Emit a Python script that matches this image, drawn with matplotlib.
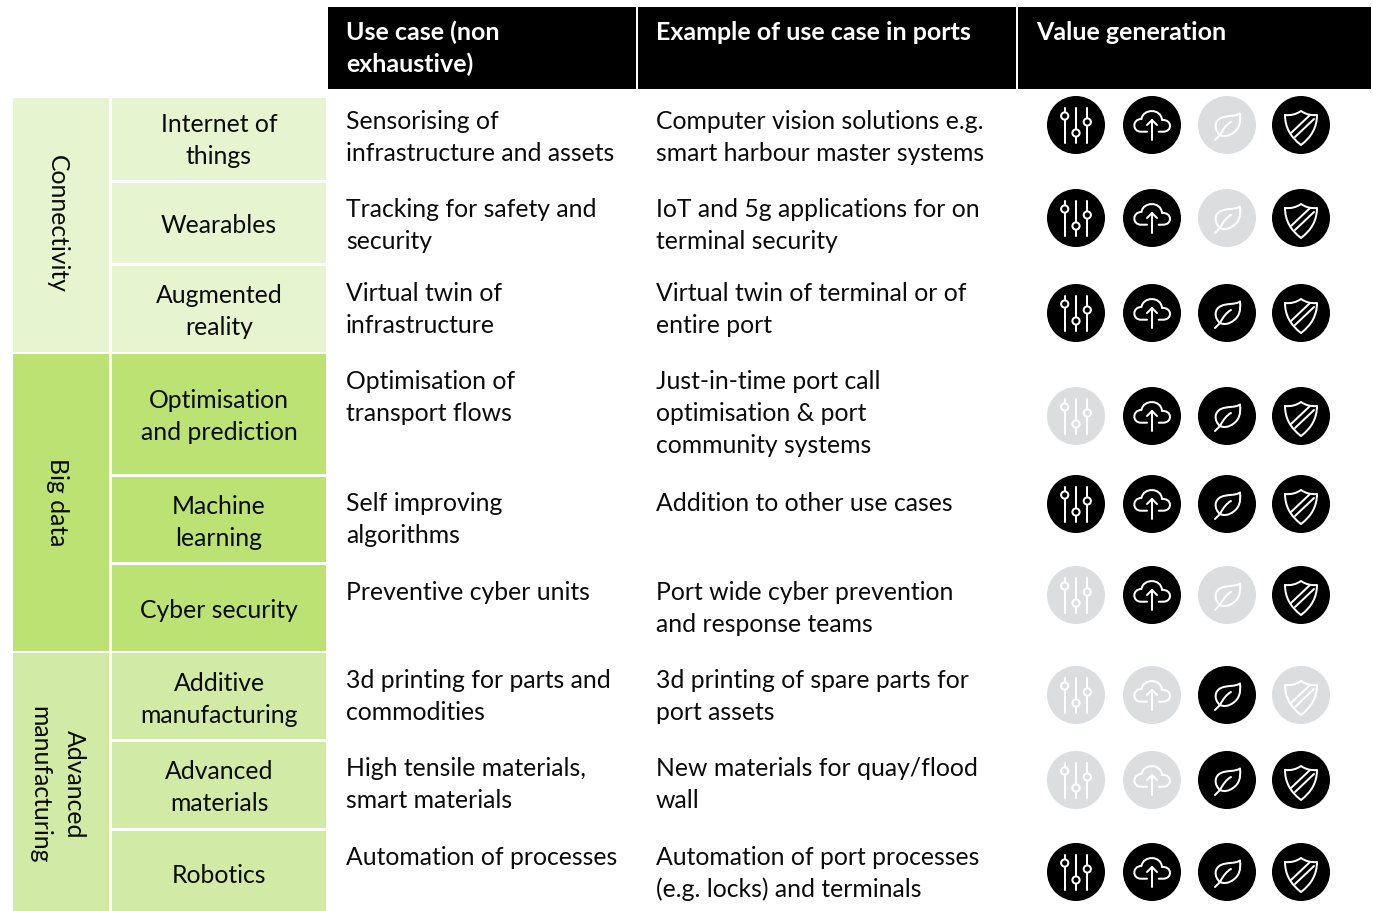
import matplotlib
matplotlib.use("Agg")
import matplotlib.pyplot as plt
from matplotlib.patches import Rectangle, Circle, PathPatch
from matplotlib.path import Path

plt.rcParams['font.family'] = ['Lato', 'DejaVu Sans']

# ---- content ----
headers = [["Use case (non", "exhaustive)"], ["Example of use case in ports"], ["Value generation"]]
groups = [["Connectivity"], ["Big data"], ["Advanced", "manufacturing"]]
technologies = [["Internet of", "things"], ["Wearables"], ["Augmented", "reality"],
                ["Optimisation", "and prediction"], ["Machine", "learning"], ["Cyber security"],
                ["Additive", "manufacturing"], ["Advanced", "materials"], ["Robotics"]]
use_cases = [["Sensorising of", "infrastructure and assets"], ["Tracking for safety and", "security"],
             ["Virtual twin of", "infrastructure"], ["Optimisation of", "transport flows"],
             ["Self improving", "algorithms"], ["Preventive cyber units"],
             ["3d printing for parts and", "commodities"], ["High tensile materials,", "smart materials"],
             ["Automation of processes"]]
examples = [["Computer vision solutions e.g.", "smart harbour master systems"],
            ["IoT and 5g applications for on", "terminal security"],
            ["Virtual twin of terminal or of", "entire port"],
            ["Just-in-time port call", "optimisation & port", "community systems"],
            ["Addition to other use cases"],
            ["Port wide cyber prevention", "and response teams"],
            ["3d printing of spare parts for", "port assets"],
            ["New materials for quay/flood", "wall"],
            ["Automation of port processes", "(e.g. locks) and terminals"]]
# value generation: sliders, cloud, leaf, shield (1 = applies)
value_flags = [[1, 1, 0, 1], [1, 1, 0, 1], [1, 1, 1, 1], [0, 1, 1, 1], [1, 1, 1, 1],
               [0, 1, 0, 1], [0, 0, 1, 0], [0, 0, 1, 1], [1, 1, 1, 1]]

# ---- layout (pixels) ----
W, H = 1373, 911
FS = 17.8
FS_HEAD = 18.0
LH = 32
group_bands = [(98, 352), (354, 651), (653, 911)]
group_colors = ['#E6F4D0', '#BBE272', '#D1EBA6']
group_of_row = [0, 0, 0, 1, 1, 1, 2, 2, 2]
row_bands = [(98, 180), (183, 263), (266, 352), (354, 474), (477, 562), (565, 651),
             (653, 739), (742, 828), (831, 911)]
tech_base = [132, 233, 303, 408, 514, 618, 691, 779, 883]
text_base = [129, 217, 301, 389, 511, 600, 688, 776, 865]
icon_y = [125, 218, 313, 416, 504, 595, 695, 780, 872]
icon_x = [1076, 1152, 1227, 1301]
R = 29
header_cols = [(328, 636, 346), (638, 1016, 656), (1018, 1371, 1036)]
group_label_y = [224, 503, 785]

fig = plt.figure(figsize=(W / 100, H / 100), dpi=100)
ax = fig.add_axes([0, 0, 1, 1])
ax.set_xlim(0, W)
ax.set_ylim(H, 0)
ax.axis('off')
BLACK = '#000000'
TXT = '#0b0b0b'
LW = 1.45


def lines(x, y, rows, color=TXT, ha='left', weight='normal', size=FS):
    for i, s in enumerate(rows):
        ax.text(x, y + i * LH, s, fontsize=size, color=color, ha=ha, va='baseline', fontweight=weight)


def stroke(cx, cy, verts, codes=None):
    verts = [(cx + a, cy + b) for a, b in verts]
    p = Path(verts, codes) if codes else Path(verts)
    ax.add_patch(PathPatch(p, fc='none', ec='white', lw=LW, capstyle='round', joinstyle='round', zorder=4))


def sliders(cx, cy):
    for dx, ky in [(-11.3, -9), (0, 8), (11.3, -3)]:
        stroke(cx, cy, [(dx, -17.5), (dx, ky - 3.6)])
        stroke(cx, cy, [(dx, ky + 3.6), (dx, 17.5)])
        ax.add_patch(Circle((cx + dx, cy + ky), 3.6, fc='none', ec='white', lw=LW, zorder=4))


def cloud(cx, cy):
    C4, M, L = Path.CURVE4, Path.MOVETO, Path.LINETO
    v = [(-5, 6.7), (-11, 6.7), (-20, 6.7), (-20, -6), (-10.5, -6), (-9, -16.5), (9, -17), (10, -5),
         (20, -6), (21, 6.7), (11, 6.7), (6.7, 6.7)]
    stroke(cx, cy, v, [M, L, C4, C4, C4, C4, C4, C4, C4, C4, C4, L])
    stroke(cx, cy, [(0, 14.5), (0, -5)])
    stroke(cx, cy, [(-5, 0), (0, -5), (5, 0)])


def leaf(cx, cy):
    C4, M = Path.CURVE4, Path.MOVETO
    v = [(-7, 10), (-13, 5), (-13, -4), (-6, -7), (0, -10), (8, -8), (13, -11.5),
         (14, -2), (12, 4), (6, 8), (2, 11), (-3, 12), (-7, 10)]
    stroke(cx, cy, v, [M] + [C4] * 12)
    stroke(cx, cy, [(-12, 15), (-7, 10)])
    stroke(cx, cy, [(-7, 10), (-4, 4), (0, -1), (4, -3)], [M, C4, C4, C4])


def shield(cx, cy):
    C3, M = Path.CURVE3, Path.MOVETO
    v = [(-16, -10), (-7, -9), (0, -14), (7, -9), (16, -10), (16, 8), (0, 20), (-16, 8), (-16, -10)]
    stroke(cx, cy, v, [M, C3, C3, C3, C3, C3, C3, C3, C3])
    stroke(cx, cy, [(-10, 8), (9, -10)])
    stroke(cx, cy, [(-6, 12), (13, -6)])


icon_funcs = [sliders, cloud, leaf, shield]

# header
for (x0, x1, tx), rows in zip(header_cols, headers):
    ax.add_patch(Rectangle((x0, 7), x1 - x0, 82, fc=BLACK, ec='none'))
    lines(tx, 40, rows, color='white', weight='bold', size=FS_HEAD)

# groups
for (y0, y1), col, rows, ym in zip(group_bands, group_colors, groups, group_label_y):
    ax.add_patch(Rectangle((13, y0), 96, y1 - y0, fc=col, ec='none'))
    xs = [57] if len(rows) == 1 else [74, 40]
    for x, s in zip(xs, rows):
        ax.text(x, ym - 0.5, s, rotation=270, fontsize=FS, color=TXT,
                ha='center', va='center', rotation_mode='anchor')

# rows
for i, (y0, y1) in enumerate(row_bands):
    ax.add_patch(Rectangle((112, y0), 214, y1 - y0, fc=group_colors[group_of_row[i]], ec='none'))
    lines(219, tech_base[i], technologies[i], ha='center')
    lines(346, text_base[i], use_cases[i])
    lines(656, text_base[i], examples[i])
    for j, f in enumerate(icon_funcs):
        on = value_flags[i][j]
        ax.add_patch(Circle((icon_x[j], icon_y[i]), R, fc=BLACK if on else '#DCDDDE', ec='none', zorder=3))
        f(icon_x[j], icon_y[i])

fig.savefig('out.png', dpi=100, facecolor='white')
